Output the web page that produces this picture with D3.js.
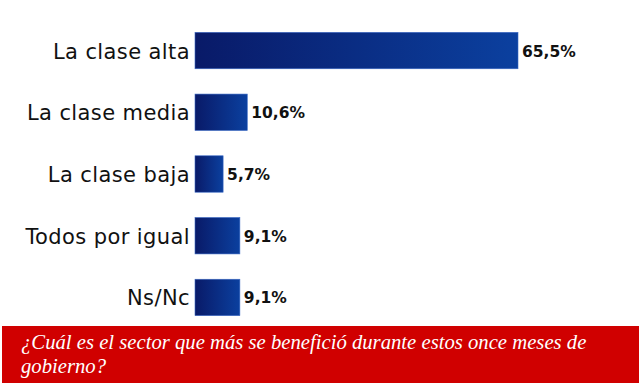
<!DOCTYPE html>
<html><head><meta charset="utf-8">
<script src="https://cdn.jsdelivr.net/npm/d3@7/dist/d3.min.js"></script>
<style>html,body{margin:0;padding:0;background:#fff;}svg{display:block;}</style>
</head><body>
<svg id="chart" width="640" height="386"></svg>
<script>
const categories = ["La clase alta", "La clase media", "La clase baja", "Todos por igual", "Ns/Nc"];
const values = [65.5, 10.6, 5.7, 9.1, 9.1];
const valueLabels = ["65,5%", "10,6%", "5,7%", "9,1%", "9,1%"];
const captionLines = ["¿Cuál es el sector que más se benefició durante estos once meses de", "gobierno?"];

const svg = d3.select("#chart");
const defs = svg.append("defs");
const grad = defs.append("linearGradient").attr("id", "barGrad")
  .attr("x1", "0").attr("x2", "1").attr("y1", "0").attr("y2", "0");
grad.append("stop").attr("offset", "0").attr("stop-color", "#091a68");
grad.append("stop").attr("offset", "1").attr("stop-color", "#0b409f");

const x = d3.scaleLinear().domain([0, 65.5]).range([195, 518]);
const y = d3.scaleBand().domain(categories).range([20, 328]).paddingInner(0.41).paddingOuter(0.2);

const g = svg.append("g");
g.selectAll("rect.bar").data(values).join("rect").attr("class", "bar")
  .attr("x", x(0)).attr("y", (d, i) => y(categories[i]))
  .attr("width", d => x(d) - x(0)).attr("height", y.bandwidth())
  .attr("fill", "url(#barGrad)").attr("stroke", "#3a68c4").attr("stroke-width", 0.6);

g.selectAll("text.cat").data(categories).join("text").attr("class", "cat")
  .attr("x", x(0) - 5).attr("y", d => y(d) + y.bandwidth() / 2 + 1)
  .attr("text-anchor", "end").attr("dominant-baseline", "central")
  .attr("font-family", "DejaVu Sans").attr("font-size", 21).attr("letter-spacing", 0.4).attr("fill", "#111")
  .text(d => d);

g.selectAll("text.val").data(values).join("text").attr("class", "val")
  .attr("x", d => x(d) + 4).attr("y", (d, i) => y(categories[i]) + y.bandwidth() / 2 + 1)
  .attr("dominant-baseline", "central")
  .attr("font-family", "DejaVu Sans").attr("font-weight", "bold").attr("font-size", 15.5).attr("fill", "#111")
  .text((d, i) => valueLabels[i]);

svg.append("rect").attr("x", 2).attr("y", 326).attr("width", 637).attr("height", 57).attr("fill", "#d00000");
svg.append("g").selectAll("text").data(captionLines).join("text")
  .attr("x", 21).attr("y", (d, i) => 349 + i * 24)
  .attr("font-family", "Liberation Serif").attr("font-style", "italic").attr("font-size", 20.7)
  .attr("fill", "#fff").text(d => d);
</script>
</body></html>
